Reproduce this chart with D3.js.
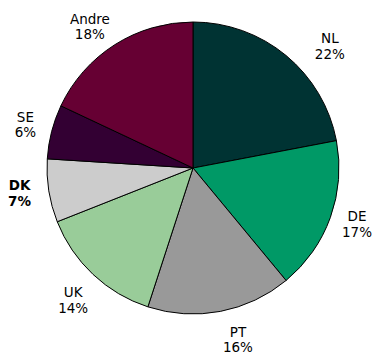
<!DOCTYPE html>
<html>
<head>
<meta charset="utf-8">
<script src="https://cdn.jsdelivr.net/npm/d3@7"></script>
<style>
  html, body { margin: 0; padding: 0; background: #fff; }
  svg { display: block; }
</style>
</head>
<body>
<svg id="chart" width="380" height="359"></svg>
<script>
// Data
const categories = ["NL", "DE", "PT", "UK", "DK", "SE", "Andre"];
const values = [22, 17, 16, 14, 7, 6, 18];
const colors = ["#003333", "#009966", "#999999", "#99CC99", "#CCCCCC", "#330033", "#660033"];

// Layout (label placement tweaks, like the original's best-fit labels)
const labelLayout = {
  NL:    { da: 9.9,  r: 180 },
  DE:    { da: 0.6,  r: 175 },
  PT:    { da: -3.5, r: 182 },
  UK:    { da: -2,   r: 182 },
  DK:    { da: -0.8, r: 176 },
  SE:    { da: -1.4, r: 172 },
  Andre: { da: -4.7, r: 171 }
};

const cx = 193, cy = 168, R = 146;
const svg = d3.select("#chart");
const g = svg.append("g").attr("transform", `translate(${cx},${cy})`);

const data = categories.map((c, i) => ({ name: c, value: values[i], color: colors[i] }));
const pie = d3.pie().sort(null).value(d => d.value).startAngle(0).endAngle(2 * Math.PI);
const arc = d3.arc().innerRadius(0).outerRadius(R);
const arcs = pie(data);

g.selectAll("path.slice")
  .data(arcs)
  .join("path")
  .attr("class", "slice")
  .attr("d", arc)
  .attr("fill", d => d.data.color)
  .attr("stroke", "#000")
  .attr("stroke-width", 1)
  .attr("stroke-linejoin", "round");

const total = d3.sum(values);
g.selectAll("text.lbl")
  .data(arcs)
  .join("text")
  .attr("class", "lbl")
  .attr("font-family", "DejaVu Sans, Verdana, sans-serif")
  .attr("font-size", 13.5)
  .attr("font-weight", d => d.data.name === "DK" ? "bold" : "normal")
  .attr("fill", "#000")
  .attr("text-anchor", "middle")
  .each(function(d) {
    const lay = labelLayout[d.data.name];
    const mid = (d.startAngle + d.endAngle) / 2 + lay.da * Math.PI / 180;
    const x = lay.r * Math.sin(mid);
    const y = -lay.r * Math.cos(mid);
    const t = d3.select(this);
    t.append("tspan").attr("x", x).attr("y", y - 7.8).text(d.data.name);
    t.append("tspan").attr("x", x).attr("y", y + 7.8).text(Math.round(d.data.value / total * 100) + "%");
  });
</script>
</body>
</html>
